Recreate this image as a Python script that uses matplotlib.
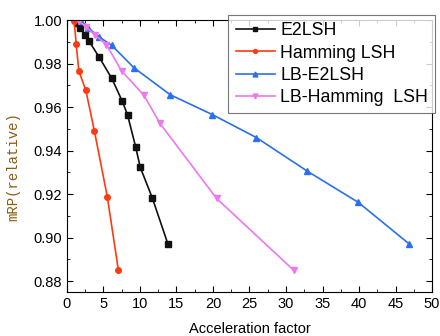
import matplotlib
matplotlib.use('Agg')
import matplotlib.pyplot as plt
from matplotlib.ticker import MultipleLocator

plt.rcParams['font.family'] = ['Liberation Sans', 'DejaVu Sans']

# data
e2_x = [1.37, 1.73, 2.5, 3.0, 4.4, 6.15, 7.6, 8.3, 9.4, 10.05, 11.7, 13.85]
e2_y = [0.9988, 0.9966, 0.9934, 0.9905, 0.9831, 0.9732, 0.9626, 0.9565, 0.9419, 0.9323, 0.9182, 0.8969]

ham_x = [1.0, 1.27, 1.64, 2.6, 3.78, 5.55, 7.05]
ham_y = [0.9997, 0.9891, 0.9766, 0.9677, 0.9488, 0.9185, 0.885]

lbe2_x = [1.9, 2.9, 4.4, 6.15, 9.15, 14.15, 19.9, 25.95, 32.9, 39.9, 46.9]
lbe2_y = [0.9995, 0.9965, 0.9923, 0.9884, 0.9782, 0.9657, 0.9566, 0.946, 0.9306, 0.9162, 0.897]

lbham_x = [1.6, 2.6, 3.9, 5.4, 7.5, 10.56, 12.75, 20.5, 31.05]
lbham_y = [0.9997, 0.997, 0.993, 0.9888, 0.9766, 0.9654, 0.9525, 0.918, 0.885]

fig = plt.figure(figsize=(4.4, 3.36), dpi=100)
ax = fig.add_axes([0.152, 0.131, 0.830, 0.809])

ax.plot(e2_x, e2_y, color='#111111', marker='s', ms=4, lw=1.2, label='E2LSH')
ax.plot(ham_x, ham_y, color='#ff3a10', marker='o', ms=4, lw=1.2, label='Hamming LSH')
ax.plot(lbe2_x, lbe2_y, color='#2a6ff0', marker='^', ms=5, lw=1.2, label='LB-E2LSH')
ax.plot(lbham_x, lbham_y, color='#ee77ee', marker='v', ms=5, lw=1.2, label='LB-Hamming  LSH')

ax.set_xlim(0, 50)
ax.set_ylim(0.875, 1.0)
ax.xaxis.set_major_locator(MultipleLocator(5))
ax.xaxis.set_minor_locator(MultipleLocator(2.5))
ax.yaxis.set_major_locator(MultipleLocator(0.02))
ax.yaxis.set_minor_locator(MultipleLocator(0.01))
ax.yaxis.set_major_formatter(matplotlib.ticker.FormatStrFormatter('%.2f'))
ax.tick_params(which='both', direction='in', top=True, right=True, labelsize=10.5)
ax.tick_params(which='major', length=4)
ax.tick_params(which='minor', length=2.5)

ax.set_xlabel('Acceleration factor', fontsize=10.5, labelpad=8)
ax.set_ylabel('mRP(relative)', fontsize=10, family=['Liberation Mono'], color='#8a5a10')
ax.yaxis.set_label_coords(-0.128, 0.46)

leg = ax.legend(loc='upper right', bbox_to_anchor=(1.008, 1.018), borderaxespad=0,
                fontsize=12.8, frameon=True, fancybox=False, edgecolor='#555555',
                handlelength=2.2, handletextpad=0.3, borderpad=0.4, labelspacing=0.3,
                markerscale=0.7)
leg.get_frame().set_linewidth(0.8)

fig.savefig('out.png', dpi=100)
